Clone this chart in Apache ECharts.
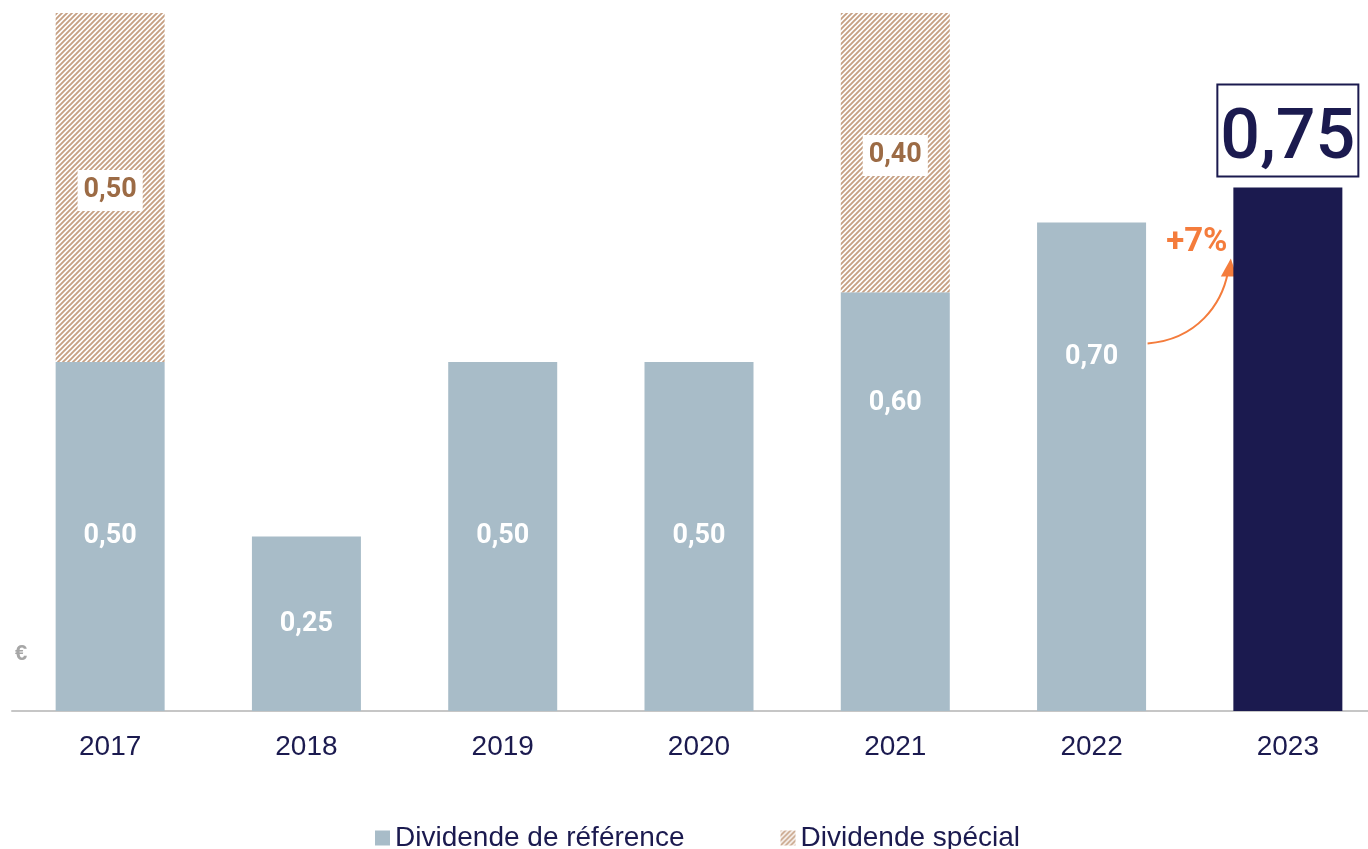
<!DOCTYPE html>
<html>
<head>
<meta charset="utf-8">
<script src="https://cdn.jsdelivr.net/npm/echarts@6/dist/echarts.min.js"></script>
<style>
  html, body { margin: 0; padding: 0; background: #fff; overflow: hidden; }
  #main { width: 1390px; height: 849px; }
</style>
</head>
<body>
<div id="main"></div>
<script>
var years = ['2017', '2018', '2019', '2020', '2021', '2022', '2023'];
var refDividend = [0.50, 0.25, 0.50, 0.50, 0.60, 0.70, 0.75];
var specialDividend = [0.50, null, null, null, 0.40, null, null];
var growthText = '+7%';

var navy = '#1b1a4f';
var grey = '#a8bcc8';
var orange = '#f47c3c';

// motif hachuré pour le dividende spécial
function makeHatch() {
  var s = 5;
  var c = document.createElement('canvas');
  c.width = s; c.height = s;
  var ctx = c.getContext('2d');
  ctx.fillStyle = '#ffffff';
  ctx.fillRect(0, 0, s, s);
  ctx.strokeStyle = '#c6a083';
  ctx.lineWidth = 1.9;
  ctx.beginPath();
  ctx.moveTo(-1, s + 1); ctx.lineTo(s + 1, -1);
  ctx.moveTo(-1, 1); ctx.lineTo(1, -1);
  ctx.moveTo(s - 1, s + 1); ctx.lineTo(s + 1, s - 1);
  ctx.stroke();
  return c;
}
var hatch = { image: makeHatch(), repeat: 'repeat' };

function fmt(v) { return v.toFixed(2).replace('.', ','); }

var refData = refDividend.map(function (v, i) {
  var item = { value: v };
  if (i === refDividend.length - 1) {
    item.itemStyle = { color: navy };
    item.label = {
      position: 'top', distance: 12, color: navy, fontSize: 70, fontWeight: 500,
      borderColor: navy, borderWidth: 2, padding: [20, 2, 0, 2], backgroundColor: '#fff'
    };
  } else if (years[i] === '2021') {
    item.label = { offset: [0, -98] };
  } else if (years[i] === '2022') {
    item.label = { offset: [0, -109] };
  }
  return item;
});

var chart = echarts.init(document.getElementById('main'));
var option = {
  animation: false,
  grid: { left: 12, right: 4, top: 13, bottom: 138 },
  legend: {
    left: 370, top: 819,
    icon: 'rect',
    itemWidth: 15, itemHeight: 15, itemGap: 96,
    textStyle: { color: navy, fontSize: 28, fontFamily: 'Liberation Sans' },
    data: ['Dividende de référence', 'Dividende spécial']
  },
  xAxis: {
    type: 'category',
    data: years,
    axisLine: { lineStyle: { color: '#c6c6c6', width: 2 } },
    axisTick: { show: false },
    axisLabel: { color: navy, fontSize: 28, margin: 22, fontFamily: 'Liberation Sans' }
  },
  yAxis: {
    type: 'value', min: 0, max: 1.0,
    show: false, splitLine: { show: false }
  },
  series: [
    {
      name: 'Dividende de référence',
      type: 'bar', stack: 'd', barWidth: 109,
      itemStyle: { color: grey },
      label: {
        show: true, position: 'inside', color: '#fff', fontSize: 27, fontWeight: 'bold',
        fontFamily: 'Roboto',
        formatter: function (p) { return fmt(p.value); }
      },
      data: refData
    },
    {
      name: 'Dividende spécial',
      type: 'bar', stack: 'd', barWidth: 109,
      itemStyle: { color: hatch },
      label: {
        show: true, position: 'inside', color: '#9c6b45', fontSize: 27, fontWeight: 'bold',
        fontFamily: 'Roboto', backgroundColor: '#fff', padding: [8, 6, 6, 6],
        offset: [0, 3],
        formatter: function (p) { return p.value == null ? '' : fmt(p.value); }
      },
      data: specialDividend
    }
  ]
};
chart.setOption(option);

// flèche de croissance entre 2022 et 2023
var p22 = chart.convertToPixel({ xAxisIndex: 0, yAxisIndex: 0 }, [5, refDividend[5]]);
var p23 = chart.convertToPixel({ xAxisIndex: 0, yAxisIndex: 0 }, [6, refDividend[6]]);
var sx = p22[0] + 56, sy = p22[1] + 121;
var ex = p23[0] - 58, ey = p23[1] + 71;
chart.setOption({
  graphic: [
    {
      type: 'text', left: 15, top: 643,
      style: { text: '€', fill: '#a6a6a6', fontSize: 22, fontWeight: 'bold', fontFamily: 'Liberation Sans' }
    },
    {
      type: 'bezierCurve',
      shape: { x1: sx, y1: sy, cpx1: sx + 50, cpy1: sy - 4, cpx2: ex - 8, cpy2: ey + 45, x2: ex - 2, y2: ey + 14 },
      style: { stroke: orange, lineWidth: 2, fill: null }
    },
    {
      type: 'polygon',
      shape: { points: [[ex + 1, ey], [ex - 9, ey + 18], [ex + 7, ey + 18]] },
      style: { fill: orange }
    },
    {
      type: 'text', x: ex - 33, y: ey - 16,
      style: {
        text: growthText, fill: orange, fontSize: 33, fontWeight: 'bold', fontFamily: 'Roboto',
        align: 'center', verticalAlign: 'middle'
      }
    }
  ]
});
</script>
</body>
</html>
